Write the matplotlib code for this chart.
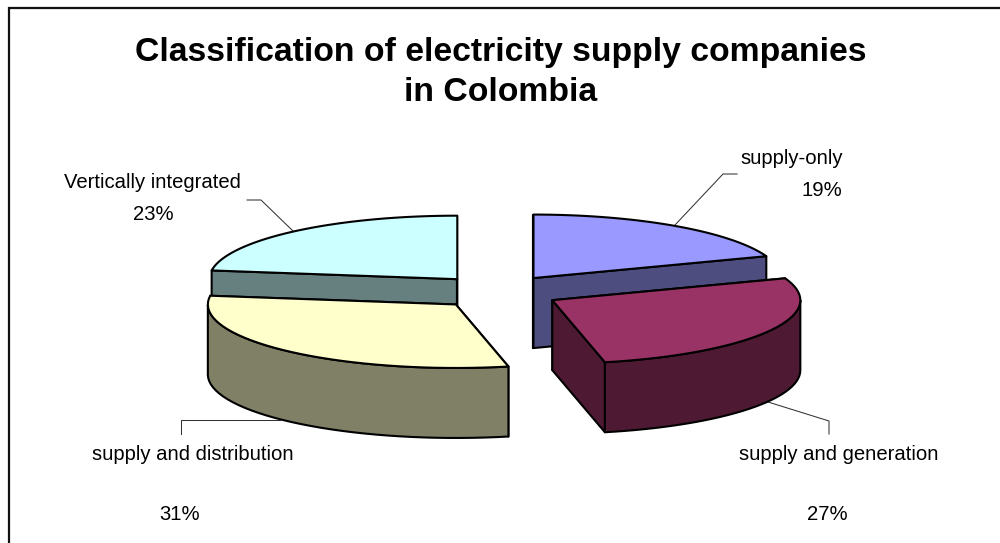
import numpy as np
import matplotlib
matplotlib.use("Agg")
import matplotlib.pyplot as plt
from matplotlib.patches import Polygon

plt.rcParams['font.family'] = ['Liberation Sans', 'DejaVu Sans']

title = "Classification of electricity supply companies\nin Colombia"
categories = ["supply-only", "supply and generation", "supply and distribution", "Vertically integrated"]
shares = [19.4, 27.2, 30.6, 22.8]
top_colors = ["#9999FF", "#993366", "#FFFFCC", "#CCFFFF"]
side_colors = ["#4D4D80", "#4D1933", "#808066", "#668080"]

W, H = 1000, 543
CX, CY = 498, 292      # pie centre (px)
A, B = 248, 63.5       # ellipse semi axes
DEPTH = 70
EX, EY = 62, 17        # explosion
LW = 1.5

fig = plt.figure(figsize=(W / 100, H / 100), dpi=100, facecolor="white")
ax = fig.add_axes([0, 0, 1, 1])
ax.set_xlim(0, W)
ax.set_ylim(H, 0)
ax.axis("off")

# chart frame: only left and top edges are inside the picture
ax.plot([9, 9, W], [H, 8, 8], color="#111111", lw=1.6, solid_joinstyle="miter", zorder=1)

edges = np.cumsum([0] + shares) / sum(shares) * 2 * np.pi


def point(th, cx, cy):
    return np.column_stack([cx + A * np.sin(th), cy - B * np.cos(th)])


def slice_geom(i):
    a0, a1 = edges[i], edges[i + 1]
    mid = (a0 + a1) / 2
    cx = CX + EX * np.sin(mid)
    cy = CY - EY * np.cos(mid)
    th = np.linspace(a0, a1, 40)
    return th, cx, cy


def draw_poly(pts, fc, z):
    ax.add_patch(Polygon(pts, closed=True, facecolor=fc, edgecolor="black", lw=LW,
                         joinstyle="round", zorder=z))


# draw order: back slices first, then the front ones
z = 3
for i in [3, 0, 2, 1]:
    th, cx, cy = slice_geom(i)
    rim = point(th, cx, cy)
    apex = np.array([[cx, cy]])
    down = np.array([0, DEPTH])
    # flat cut walls
    for k in (0, -1):
        wall = np.vstack([apex, rim[[k]], rim[[k]] + down, apex + down])
        draw_poly(wall, side_colors[i], z)
        z += 1
    # curved outer wall (front half only)
    front = np.cos(th) < 0.03
    if front.any():
        f = rim[front]
        draw_poly(np.vstack([f, (f + down)[::-1]]), side_colors[i], z)
        z += 1
    draw_poly(np.vstack([apex, rim]), top_colors[i], z)
    z += 1

# leader lines
lead_xs = [[675, 723, 737], [768, 829, 829], [280, 181, 181], [293, 261, 247]]
lead_ys = [[225, 174, 174], [402, 421, 434], [420, 420, 434], [231, 200, 200]]
for xs, ys in zip(lead_xs, lead_ys):
    ax.plot(xs, ys, color="#333333", lw=0.75, zorder=2)

ax.text(501, 72.5, title, ha="center", va="center", fontsize=24.3, fontweight="bold",
        color="black", linespacing=1.34, zorder=40)

label_x = [792, 839, 193, 152]
name_y = [159, 455, 455, 183]
pct_x = [822, 827, 180, 153]
pct_y = [190, 515, 515, 215]
for i, c in enumerate(categories):
    ax.text(label_x[i], name_y[i], c, ha="center", va="center", fontsize=14.6, color="black", zorder=40)
    ax.text(pct_x[i], pct_y[i], f"{round(shares[i])}%", ha="center", va="center",
            fontsize=14.6, color="black", zorder=40)

fig.savefig("out.png", dpi=100, facecolor="white")
